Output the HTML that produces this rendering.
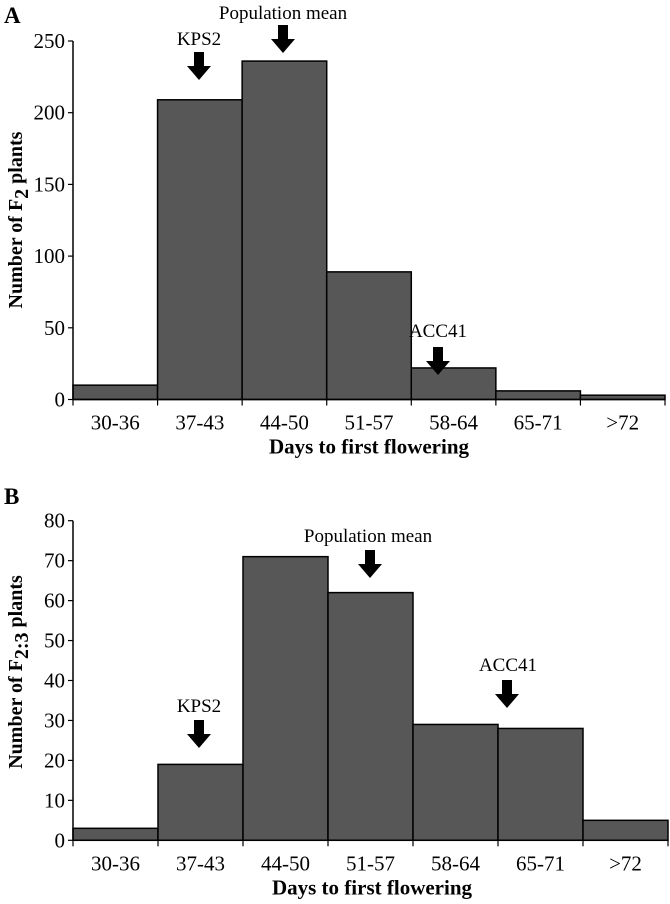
<!DOCTYPE html>
<html><head><meta charset="utf-8"><style>
body{margin:0;background:#fff}
svg{display:block;font-family:"Liberation Serif",serif}
</style></head><body>
<svg id="s" width="670" height="904" xmlns="http://www.w3.org/2000/svg"></svg>
<script>
const categories = ["30-36","37-43","44-50","51-57","58-64","65-71",">72"];
const valuesA = [10,209,236,89,22,6,3];
const valuesB = [3,19,71,62,29,28,5];
const ticksA = [0,50,100,150,200,250];
const ticksB = [0,10,20,30,40,50,60,70,80];
const NS="http://www.w3.org/2000/svg";
const svg=document.getElementById('s');
function el(tag,attrs,parent){const e=document.createElementNS(NS,tag);for(const k in attrs)e.setAttribute(k,attrs[k]);(parent||svg).appendChild(e);return e;}
function txt(x,y,s,attrs){const t=el('text',Object.assign({x:x,y:y},attrs||{}));t.textContent=s;return t;}
function arrow(cx,top,g){
  const p=el('polygon',{points:`${cx-5},${top} ${cx+5},${top} ${cx+5},${top+14} ${cx+12},${top+14} ${cx},${top+28} ${cx-12},${top+14} ${cx-5},${top+14}`,fill:'#000'},g);
  
  
}
function chart(cfg){
  const g=el('g',{});
  
  
  const x0=73,y0=cfg.y0,x1=cfg.x1,bw=(x1-x0)/categories.length;
  const sy=v=>y0-(v/cfg.max)*(y0-cfg.ytop);
  const sx=i=>x0+i*bw;
  cfg.values.forEach((v,i)=>{
    const r=el('rect',{x:sx(i),y:sy(v),width:bw,height:y0-sy(v),fill:'#575757',stroke:'#000','stroke-width':1.5},g);
    
    
  });
  const ya=el('line',{x1:x0,y1:cfg.ytop,x2:x0,y2:y0,stroke:'#000','stroke-width':1.5},g);
  
  
  const xa=el('line',{x1:x0,y1:y0,x2:x1,y2:y0,stroke:'#000','stroke-width':1.5},g);
  
  
  cfg.ticks.forEach(t=>{
    el('line',{x1:x0-5,y1:sy(t),x2:x0,y2:sy(t),stroke:'#000','stroke-width':1.2},g);
    const l=txt(65,sy(t)+7,String(t),{'text-anchor':'end','font-size':21});
    
    
  });
  for(let i=0;i<=categories.length;i++) el('line',{x1:sx(i),y1:y0,x2:sx(i),y2:y0+6,stroke:'#000','stroke-width':1.2},g);
  categories.forEach((c,i)=>{
    const l=txt(sx(i)+bw/2,y0+30,c,{'text-anchor':'middle','font-size':21});
    
    
  });
  const xt=txt(cfg.titleX,y0+54,'Days to first flowering',{'text-anchor':'middle','font-size':21,'font-weight':'bold'});
  
  
  const yt=txt(0,0,'',{'font-size':20,'font-weight':'bold','text-anchor':'middle',transform:`translate(22,${cfg.ymid}) rotate(-90)`});
  yt.innerHTML=cfg.ylabel;
  
  
  const pl=txt(4,cfg.panelY,cfg.panel,{'font-size':23,'font-weight':'bold'});
  
  
  cfg.ann.forEach(a=>{
    const t=txt(a.x,a.ty,a.text,{'text-anchor':'middle','font-size':19});
    
    
    arrow(a.ax,a.at,g);
  });
}
chart({name:'chart-a',values:valuesA,ticks:ticksA,max:250,y0:399.5,ytop:41,x1:665,ymid:220,titleX:369,panel:'A',panelY:23,
  ylabel:'Number of F<tspan dy="6">2</tspan><tspan dy="-6"> plants</tspan>',
  ann:[{text:'KPS2',x:199,ty:45,ax:199,at:52},{text:'Population mean',x:283,ty:19,ax:283,at:25},{text:'ACC41',x:438,ty:337,ax:438,at:347}]});
chart({name:'chart-b',values:valuesB,ticks:ticksB,max:80,y0:840.3,ytop:520.7,x1:668,ymid:672,titleX:372,panel:'B',panelY:504,
  ylabel:'Number of F<tspan dy="6">2:3</tspan><tspan dy="-6"> plants</tspan>',
  ann:[{text:'KPS2',x:199,ty:712,ax:199,at:720},{text:'Population mean',x:368,ty:542,ax:370,at:550},{text:'ACC41',x:508,ty:671,ax:507,at:680}]});
</script>
</body></html>
